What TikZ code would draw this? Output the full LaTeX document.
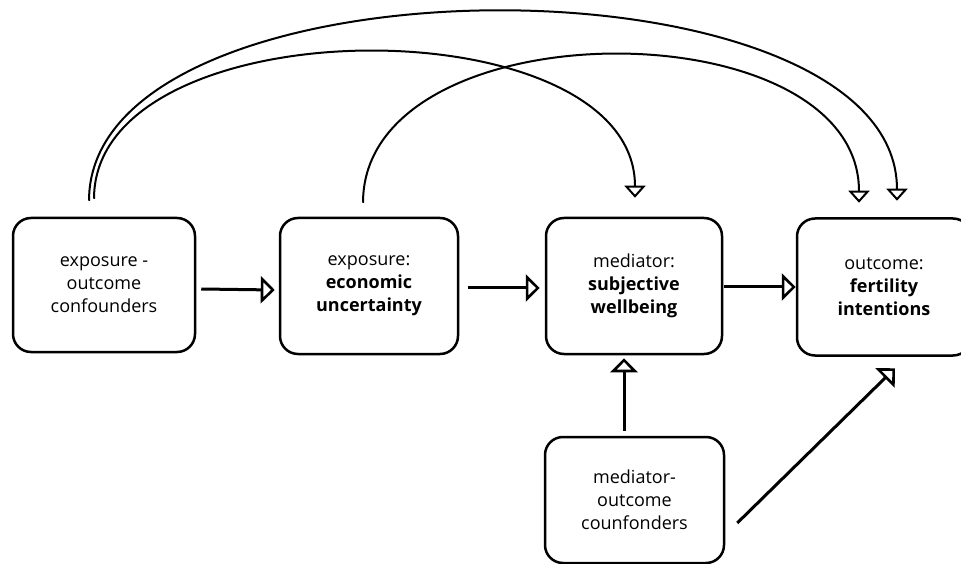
\documentclass[tikz,border=0pt]{standalone}
\usepackage{fontspec}
\setmainfont{Open Sans}
\usetikzlibrary{arrows.meta}

\tikzset{
  varbox/.style={draw, line width=2.5pt, rounded corners=18pt, align=center,
    font=\fontsize{18}{23}\selectfont},
  causal/.style={line width=3pt,
    -{Triangle[open, fill=white, length=14pt, width=27pt, line width=2.6pt]}},
  longarc/.style={line width=2pt,
    -{Triangle[open, fill=white, length=12pt, width=21pt, line width=2pt]}}
}

\begin{document}
\begin{tikzpicture}[x=1pt, y=1pt]
    \useasboundingbox (0,0) rectangle (961,563);

    % Variables
    \node[varbox, minimum width=182pt, minimum height=134pt] (conf) at (104,278)
        {exposure -\\outcome\\confounders};
    \node[varbox, minimum width=178pt, minimum height=136pt] (expo) at (369,277)
        {exposure:\\\textbf{economic}\\\textbf{uncertainty}};
    \node[varbox, minimum width=176pt, minimum height=136pt] (medi) at (634,277)
        {mediator:\\\textbf{subjective}\\\textbf{wellbeing}};
    \node[varbox, minimum width=174pt, minimum height=137pt] (outc) at (884,276)
        {outcome:\\\textbf{fertility}\\\textbf{intentions}};
    \node[varbox, minimum width=179pt, minimum height=126pt] (mcon) at (634.5,63)
        {mediator-\\outcome\\counfonders};

    % Main path
    \draw[causal] ([shift={(5,-4)}]conf.east) -- ([shift={(-4,-4)}]expo.west);
    \draw[causal] ([shift={(9,-2)}]expo.east) -- ([shift={(-5,-2)}]medi.west);
    \draw[causal] ([shift={(1,-1)}]medi.east) -- ([shift={(0,0)}]outc.west);

    % Mediator-outcome confounders
    \draw[causal] ([shift={(-10.5,5)}]mcon.north) -- ([shift={(-10,-3)}]medi.south);
    \draw[causal] ([shift={(12,-23)}]mcon.east) -- ([shift={(11,-11.5)}]outc.south);

    % Arcs over the top
    \draw[longarc] ([shift={(-15,16)}]conf.north) .. controls +(0,252) and +(0,252) ..
        ([shift={(13,16.5)}]outc.north);
    \draw[longarc] ([shift={(-10,18)}]conf.north) .. controls +(0,195) and +(0,195) ..
        ([shift={(1,19)}]medi.north);
    \draw[longarc] ([shift={(-6,14)}]expo.north) .. controls +(0,197) and +(0,197) ..
        ([shift={(-25,14.5)}]outc.north);
\end{tikzpicture}
\end{document}
